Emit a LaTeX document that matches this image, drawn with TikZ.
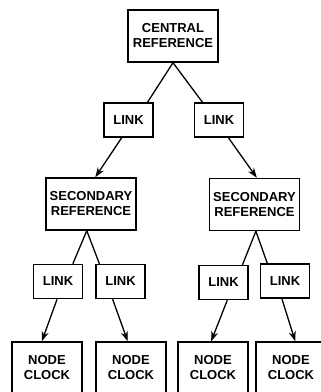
\documentclass[tikz,border=0pt]{standalone}
\usepackage{fontspec}
\setmainfont{Liberation Sans}
\usetikzlibrary{arrows.meta}

\begin{document}
\begin{tikzpicture}[
    x=1pt, y=-1pt,
    >={Stealth[length=10pt,width=7pt]},
    refbox/.style={draw, line width=1.4pt, align=center, inner sep=1pt,
                   minimum width=90pt, minimum height=52pt,
                   font=\fontsize{13}{15}\selectfont\bfseries},
    linkbox/.style={draw, line width=1.4pt, inner sep=1pt,
                    minimum width=49pt, minimum height=34pt,
                    font=\fontsize{13}{15}\selectfont\bfseries},
    clockbox/.style={draw, line width=1.4pt, align=center, inner sep=1pt,
                     minimum width=70pt, minimum height=52pt,
                     font=\fontsize{13}{15}\selectfont\bfseries},
    tie/.style={line width=1.3pt},
    feed/.style={->, line width=1.3pt}
]
\useasboundingbox (0,0) rectangle (321,392);

\node[refbox]   (C)   at (173,  36) {CENTRAL\\REFERENCE};
\node[linkbox]  (L1)  at (128.5,120) {LINK};
\node[linkbox]  (L2)  at (219, 120) {LINK};
\node[refbox]   (S1)  at (91,  204) {SECONDARY\\REFERENCE};
\node[refbox]   (S2)  at (254.5,204.5) {SECONDARY\\REFERENCE};
\node[linkbox]  (L11) at (58,  281.5) {LINK};
\node[linkbox]  (L12) at (120.5,281.5) {LINK};
\node[linkbox]  (L21) at (223.5,282.5) {LINK};
\node[linkbox]  (L22) at (285, 281) {LINK};
\node[clockbox] (N11) at (47,  368) {NODE\\CLOCK};
\node[clockbox] (N12) at (131, 368) {NODE\\CLOCK};
\node[clockbox] (N21) at (213, 368) {NODE\\CLOCK};
\node[clockbox] (N22) at (291, 368) {NODE\\CLOCK};

% top level
\draw[tie]  (C.south) -- (L1.43);
\draw[tie]  (C.south) -- (L2.133);
\draw[feed] (L1.249) -- (S1.81);
\draw[feed] (L2.298) -- (S2.85);

% left branch
\draw[tie]  (S1.261) -- (L11.50);
\draw[tie]  (S1.261) -- (L12.140);
\draw[feed] (L11.267) -- (N11.101);
\draw[feed] (L12.246) -- (N12.97);

% right branch
\draw[tie]  (S2.273) -- (L21.43);
\draw[tie]  (S2.273) -- (L22.135);
\draw[feed] (L21.282) -- (N21.94);
\draw[feed] (L22.260) -- (N22.81);

\end{tikzpicture}
\end{document}
